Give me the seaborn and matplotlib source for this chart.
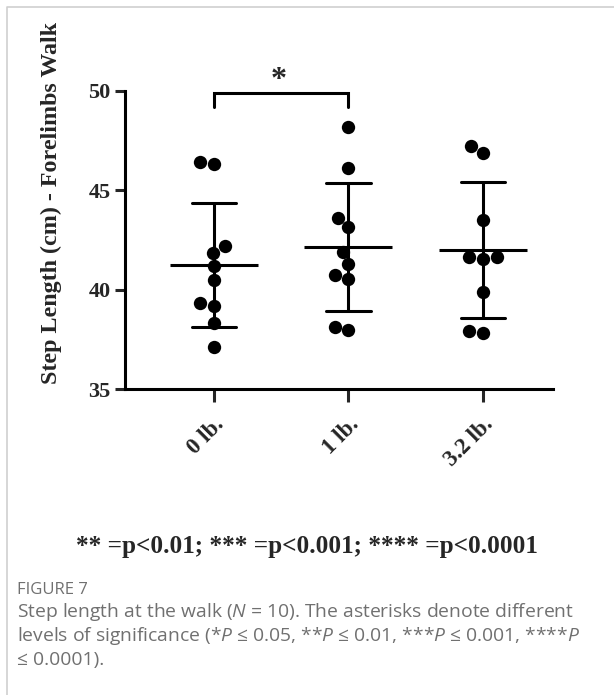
import matplotlib
matplotlib.use("Agg")
import matplotlib.pyplot as plt
import seaborn as sns
import pandas as pd
import numpy as np
from matplotlib.lines import Line2D

# ---- data ----
categories = ["0 lb.", "1 lb.", "3.2 lb."]
vals_0lb = [46.43, 46.33, 42.21, 41.86, 41.19, 40.49, 39.35, 39.18, 38.34, 37.13]
vals_1lb = [48.17, 46.11, 43.59, 43.14, 41.91, 41.29, 40.72, 40.52, 38.11, 37.97]
vals_32lb = [47.25, 46.90, 43.49, 41.63, 41.53, 41.63, 39.87, 37.92, 37.81]
y_ticks = [35, 40, 45, 50]
y_label = "Step Length (cm) - Forelimbs Walk"
sig_pair = (0, 1)
sig_text = "*"
legend_text = "** =p<0.01; *** =p<0.001; **** =p<0.0001"
fig_label = "FIGURE 7"

df = pd.DataFrame({
    "group": [categories[0]] * len(vals_0lb) + [categories[1]] * len(vals_1lb)
             + [categories[2]] * len(vals_32lb),
    "value": vals_0lb + vals_1lb + vals_32lb,
})

sns.set_style("white")
plt.rcParams["font.family"] = ["Liberation Serif", "DejaVu Serif"]
plt.rcParams["mathtext.fontset"] = "custom"
plt.rcParams["mathtext.rm"] = "Open Sans"
plt.rcParams["mathtext.it"] = "Open Sans:italic"

W, H, DPI = 614, 695, 100
fig = plt.figure(figsize=(W / DPI, H / DPI), dpi=DPI)
ax = fig.add_axes([125 / W, 1 - 389 / H, (553 - 125) / W, (389 - 91) / H])

LW = 2.2

# mean +/- SD
sns.pointplot(data=df, x="group", y="value", order=categories, errorbar="sd",
              capsize=0.33, linestyle="none", marker="_", markersize=64,
              markeredgewidth=LW, color="black",
              err_kws={"linewidth": LW}, ax=ax, zorder=2)
# individual points
sns.swarmplot(data=df, x="group", y="value", order=categories, color="black",
              size=9.6, ax=ax, zorder=3)

ax.set_xlim(-0.66, 2.52)
ax.set_ylim(35, 50)
ax.set_yticks(y_ticks)
ax.set_xlabel("")
ax.set_ylabel("")
for s in ["top", "right"]:
    ax.spines[s].set_visible(False)
for s in ["left", "bottom"]:
    ax.spines[s].set_linewidth(LW)
    ax.spines[s].set_color("black")
ax.tick_params(axis="y", length=7.5, width=LW, pad=3, labelsize=16, left=True)
ax.tick_params(axis="x", length=9, width=LW, pad=9, labelsize=16.5, bottom=True)
for t in ax.get_yticklabels():
    t.set_fontweight("bold")
ax.set_xticks(range(len(categories)))
ax.set_xticklabels(categories, rotation=45, ha="right", rotation_mode="anchor",
                   fontweight="bold")

# significance bracket
x0, x1 = sig_pair
ax.plot([x0, x0, x1, x1], [49.2, 49.88, 49.88, 49.2], color="black", lw=LW,
        solid_joinstyle="miter", clip_on=False)
ax.text((x0 + x1) / 2 - 0.02, 49.8, sig_text, ha="center", va="bottom", fontsize=23,
        fontweight="bold", clip_on=False)

# y label
fig.text(51 / W, 1 - 203 / H, y_label, rotation=90, ha="center", va="center",
         fontsize=17.3, fontweight="bold")

# legend text under plot
fig.text(307 / W, 1 - 547 / H, legend_text, ha="center", va="center",
         fontsize=18.2, fontweight="bold")

# caption
cap_kw = dict(family=["Open Sans", "DejaVu Sans"], color="#707070")
fig.text(17 / W, 1 - 590 / H, fig_label, ha="left", va="center", fontsize=12,
         **cap_kw)
lines = [
    r"Step length at the walk ($\mathit{N}$ = 10). The asterisks denote different",
    r"levels of significance (*$\mathit{P}$ ≤ 0.05, **$\mathit{P}$ ≤ 0.01, ***$\mathit{P}$ ≤ 0.001, ****$\mathit{P}$",
    "≤ 0.0001).",
]
for i, ln in enumerate(lines):
    fig.text(17 / W, 1 - (612 + 24 * i) / H, ln, ha="left", va="center",
             fontsize=13.9, **cap_kw)

# frame (left and top edges)
fig.add_artist(Line2D([7 / W, 7 / W, 1], [0, 1 - 7 / H, 1 - 7 / H],
                      transform=fig.transFigure, color="#cfcfcf", lw=1.2))

fig.savefig("out.png", dpi=DPI)
